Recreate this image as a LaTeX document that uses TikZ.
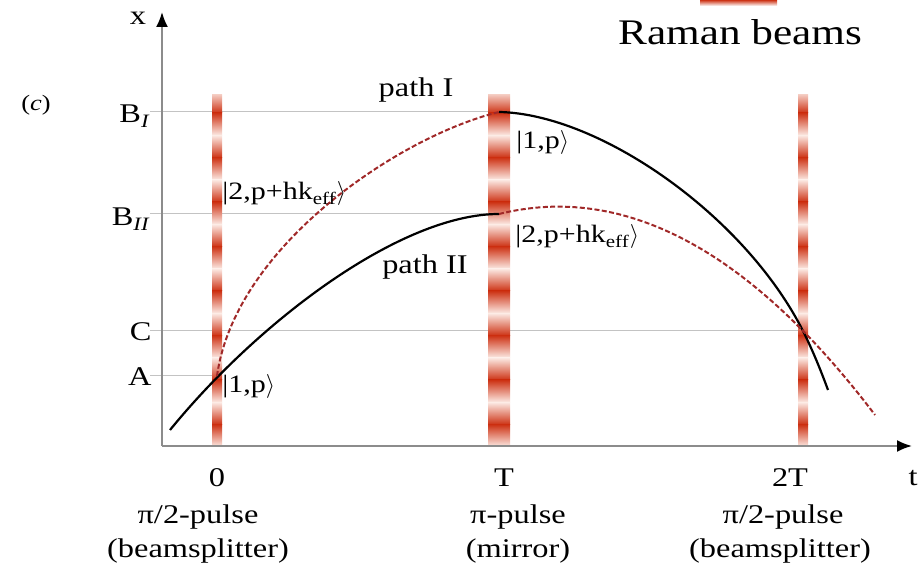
\documentclass[tikz,border=0pt]{standalone}
\usepackage{fontspec}
\setmainfont[FakeStretch=1.2]{Liberation Serif}
\usetikzlibrary{arrows.meta}
\definecolor{beamred}{RGB}{205,50,20}
\definecolor{beamlight}{RGB}{252,234,228}
\definecolor{pathred}{RGB}{160,40,40}
\definecolor{axisgray}{RGB}{140,140,140}
\definecolor{levelgray}{RGB}{195,195,195}
\newcommand{\ramanbeam}[2]{%
  \begin{scope}
    \clip ({#1-#2/2},130) rectangle ({#1+#2/2},481);
    \foreach \k in {0,...,7} {
      \shade[top color=beamlight,bottom color=beamred] ({#1-#2/2},{463-44.5*\k}) rectangle ({#1+#2/2},{485.25-44.5*\k});
      \shade[top color=beamred,bottom color=beamlight] ({#1-#2/2},{440.75-44.5*\k}) rectangle ({#1+#2/2},{463-44.5*\k});
    }
  \end{scope}}

\begin{document}
\begin{tikzpicture}[x=0.5pt,y=0.5pt,
  lab/.style={font=\fontsize{13.5}{16}\selectfont,inner sep=0pt},
  ket/.style={font=\fontsize{12.5}{15}\selectfont,inner sep=0pt,anchor=west},
  level/.style={levelgray,line width=0.5pt},
  axis/.style={axisgray,line width=1pt,-{Latex[length=7.5pt,width=6pt,color=black]}},
  wave/.style={black,line width=1.1pt},
  wavedash/.style={pathred,line width=1pt,dash pattern=on 2.5pt off 1.2pt}]
\useasboundingbox (0,0) rectangle (924,576);
\coordinate (O) at (162,130);
\coordinate (A) at (217,200);
\coordinate (BI) at (499,464);
\coordinate (BII) at (499,362);
\coordinate (C) at (803,245);
\coordinate (start) at (170,146);
\coordinate (endI) at (828,186);
\coordinate (endII) at (875,161);
\coordinate (ytop) at (162,564);
\coordinate (xend) at (912,130);
\draw[level] (150,464) -- (BI);
\draw[level] (150,362) -- (BII);
\draw[level] (150,245) -- (C);
\draw[level] (150,200) -- (A);
\ramanbeam{217}{10}
\ramanbeam{499}{22}
\ramanbeam{803}{10}
\shade[top color=beamred,bottom color=white] (700,570) rectangle (777,576);
\node[lab,font=\fontsize{18}{20}\selectfont,anchor=base] (raman) at (740,531) {Raman beams};
\draw[axis] (O) -- (ytop);
\draw[axis] (O) -- (xend);
\draw[wave] (start) .. controls (258,254) and (400,362) .. (BII);
\draw[wavedash] (A) .. controls (235,330) and (400,440) .. (BI);
\draw[wave] (BI) .. controls (600,462) and (745,360) .. (C) .. controls (813,225) and (821,205) .. (endI);
\draw[wavedash] (BII) .. controls (624,393) and (750,326) .. (endII);
\node[lab] (pathI) at (416,486) {path I};
\node[lab] (pathII) at (425,309) {path II};
\node[ket] (ketA) at (222,189) {|1,p$\rangle$};
\node[ket] (ketAup) at (222,382) {|2,p+hk\textsubscript{eff}$\rangle$};
\node[ket] (ketBI) at (516,433) {|1,p$\rangle$};
\node[ket] (ketBII) at (515,339) {|2,p+hk\textsubscript{eff}$\rangle$};
\node[lab,anchor=base east] (lbBI) at (150,453) {B\textsubscript{\itshape I}};
\node[lab,anchor=base east] (lbBII) at (150,350) {B\textsubscript{\itshape II}};
\node[lab,anchor=base east] (lbC) at (152,235) {C};
\node[lab,anchor=base east] (lbA) at (152,190) {A};
\node[lab] (xlab) at (138,558) {x};
\node[lab,anchor=base] (tlab) at (913,90) {t};
\node[lab,anchor=base] (tzero) at (217,89) {0};
\node[lab,anchor=base] (tone) at (504,89) {T};
\node[lab,anchor=base] (ttwo) at (790,89) {2T};
\node[lab,anchor=base] (pulse0) at (198,52) {π/2-pulse};
\node[lab,anchor=base] (role0) at (198,18) {(beamsplitter)};
\node[lab,anchor=base] (pulse1) at (518,52) {π-pulse};
\node[lab,anchor=base] (role1) at (518,18) {(mirror)};
\node[lab,anchor=base] (pulse2) at (783,52) {π/2-pulse};
\node[lab,anchor=base] (role2) at (780,18) {(beamsplitter)};
\node[lab,font=\fontsize{11}{13}\selectfont] (panel) at (36,471) {(\textit{c})};
\end{tikzpicture}
\end{document}
